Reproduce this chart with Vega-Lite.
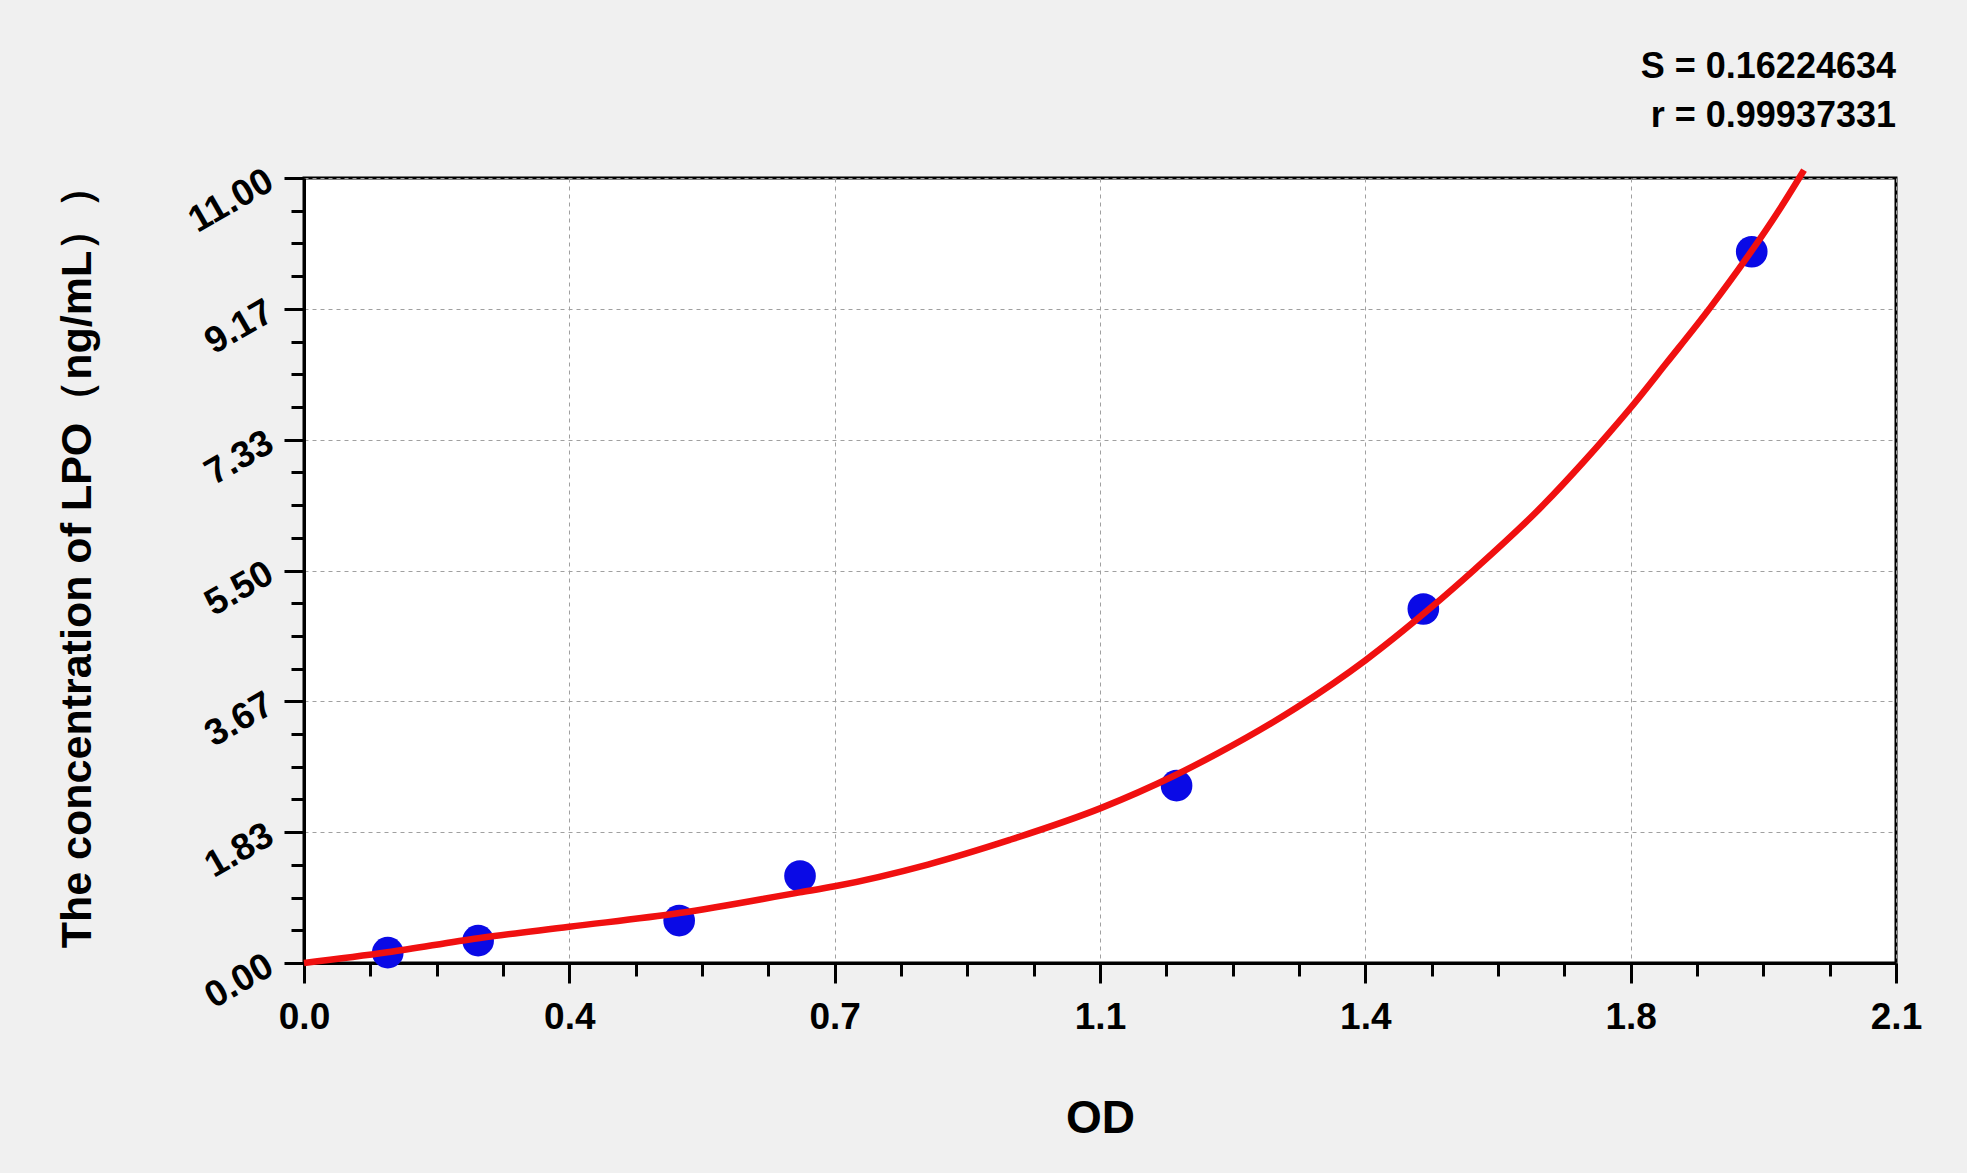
{
  "$schema": "https://vega.github.io/schema/vega-lite/v6.json",
  "width": 1592,
  "height": 785,
  "autosize": "none",
  "padding": {"left": 304, "top": 178, "right": 71, "bottom": 210},
  "background": "#f0f0f0",
  "config": {
    "view": {"fill": "white", "stroke": "black", "strokeWidth": 3},
    "font": "Liberation Sans"
  },
  "title": {
    "text": "S = 0.16224634",
    "subtitle": "r = 0.99937331",
    "anchor": "end",
    "frame": "group",
    "font": "Liberation Sans",
    "subtitleFont": "Liberation Sans",
    "fontSize": 36,
    "subtitleFontSize": 36,
    "fontWeight": "bold",
    "subtitleFontWeight": "bold",
    "color": "black",
    "subtitleColor": "black",
    "subtitlePadding": 13,
    "offset": 22
  },
  "datasets": {
    "points": [
      {"od": 0.1105, "conc": 0.145},
      {"od": 0.2297, "conc": 0.313},
      {"od": 0.4949, "conc": 0.593},
      {"od": 0.6543, "conc": 1.219},
      {"od": 1.151, "conc": 2.485},
      {"od": 1.4765, "conc": 4.96},
      {"od": 1.9097, "conc": 9.967}
    ],
    "curve": [
      {"od": 0.0, "conc": 0.0},
      {"od": 0.11, "conc": 0.15},
      {"od": 0.23, "conc": 0.347},
      {"od": 0.35, "conc": 0.507},
      {"od": 0.495, "conc": 0.7},
      {"od": 0.654, "conc": 0.99},
      {"od": 0.7, "conc": 1.075},
      {"od": 0.823, "conc": 1.38},
      {"od": 0.931, "conc": 1.725},
      {"od": 1.051, "conc": 2.17},
      {"od": 1.147, "conc": 2.62},
      {"od": 1.204, "conc": 2.93},
      {"od": 1.3095, "conc": 3.58},
      {"od": 1.4005, "conc": 4.245},
      {"od": 1.4854, "conc": 4.97},
      {"od": 1.5447, "conc": 5.52},
      {"od": 1.6349, "conc": 6.42},
      {"od": 1.6877, "conc": 7.02},
      {"od": 1.7186, "conc": 7.39},
      {"od": 1.75, "conc": 7.78},
      {"od": 1.7975, "conc": 8.41},
      {"od": 1.8547, "conc": 9.18},
      {"od": 1.903, "conc": 9.88},
      {"od": 1.947, "conc": 10.57},
      {"od": 1.9786, "conc": 11.11}
    ]
  },
  "encoding": {
    "x": {
      "field": "od",
      "type": "quantitative",
      "scale": {"domain": [0, 2.1], "nice": false, "zero": false},
      "axis": {
        "values": [0, 0.0875, 0.175, 0.2625, 0.35, 0.4375, 0.525, 0.6125, 0.7, 0.7875, 0.875, 0.9625, 1.05, 1.1375, 1.225, 1.3125, 1.4, 1.4875, 1.575, 1.6625, 1.75, 1.8375, 1.925, 2.0125, 2.1],
        "title": "OD",
        "titleFont": "Liberation Sans",
        "titleFontSize": 46,
        "titleFontWeight": "bold",
        "titleColor": "black",
        "titleBaseline": "alphabetic",
        "titleY": 169,
        "labelExpr": "abs(datum.value/0.35 - round(datum.value/0.35)) < 0.01 ? format(round(datum.value*10+0.001)/10, '.1f') : ''",
        "labelFont": "Liberation Sans",
        "labelFontSize": 37,
        "labelFontWeight": "bold",
        "labelColor": "black",
        "labelPadding": 16,
        "labelFlush": false,
        "labelOverlap": false,
        "labelBound": false,
        "tickSize": {"condition": {"test": "abs(datum.value/0.35 - round(datum.value/0.35)) > 0.01", "value": 13}, "value": 20},
        "tickWidth": 3,
        "tickColor": "black",
        "domainColor": "black",
        "domainWidth": 3,
        "grid": true,
        "gridColor": "#a0a0a0",
        "gridDash": [4, 4],
        "gridWidth": 1,
        "gridOpacity": {"condition": {"test": "abs(datum.value/0.35 - round(datum.value/0.35)) > 0.01", "value": 0}, "value": 1}
      }
    },
    "y": {
      "field": "conc",
      "type": "quantitative",
      "scale": {"domain": [0, 11], "nice": false, "zero": false},
      "axis": {
        "values": [0, 0.458333, 0.916667, 1.375, 1.833333, 2.291667, 2.75, 3.208333, 3.666667, 4.125, 4.583333, 5.041667, 5.5, 5.958333, 6.416667, 6.875, 7.333333, 7.791667, 8.25, 8.708333, 9.166667, 9.625, 10.083333, 10.541667, 11],
        "title": "The concentration of LPO（ng/mL））",
        "titleFont": "Liberation Sans",
        "titleFontSize": 43,
        "titleFontWeight": "bold",
        "titleColor": "black",
        "titleAngle": -90,
        "titleBaseline": "alphabetic",
        "titleAlign": "center",
        "titleX": -214,
        "titleY": 378,
        "labelExpr": "abs(datum.value*6/11 - round(datum.value*6/11)) < 0.01 ? format(datum.value, '.2f') : ''",
        "labelFont": "Liberation Sans",
        "labelFontSize": 37,
        "labelFontWeight": "bold",
        "labelColor": "black",
        "labelAngle": -30,
        "labelAlign": "right",
        "labelBaseline": "middle",
        "labelPadding": 14,
        "labelFlush": false,
        "labelOverlap": false,
        "labelBound": false,
        "tickSize": {"condition": {"test": "abs(datum.value*6/11 - round(datum.value*6/11)) > 0.01", "value": 13}, "value": 20},
        "tickWidth": 3,
        "tickColor": "black",
        "domainColor": "black",
        "domainWidth": 3,
        "grid": true,
        "gridColor": "#a0a0a0",
        "gridDash": [4, 4],
        "gridWidth": 1,
        "gridOpacity": {"condition": {"test": "abs(datum.value*6/11 - round(datum.value*6/11)) > 0.01", "value": 0}, "value": 1}
      }
    }
  },
  "layer": [
    {
      "data": {"name": "points"},
      "mark": {"type": "circle", "size": 1000, "color": "#0a0ae6", "opacity": 1}
    },
    {
      "data": {"name": "curve"},
      "mark": {"type": "line", "color": "#f01010", "strokeWidth": 6.5, "interpolate": "monotone"}
    }
  ]
}
